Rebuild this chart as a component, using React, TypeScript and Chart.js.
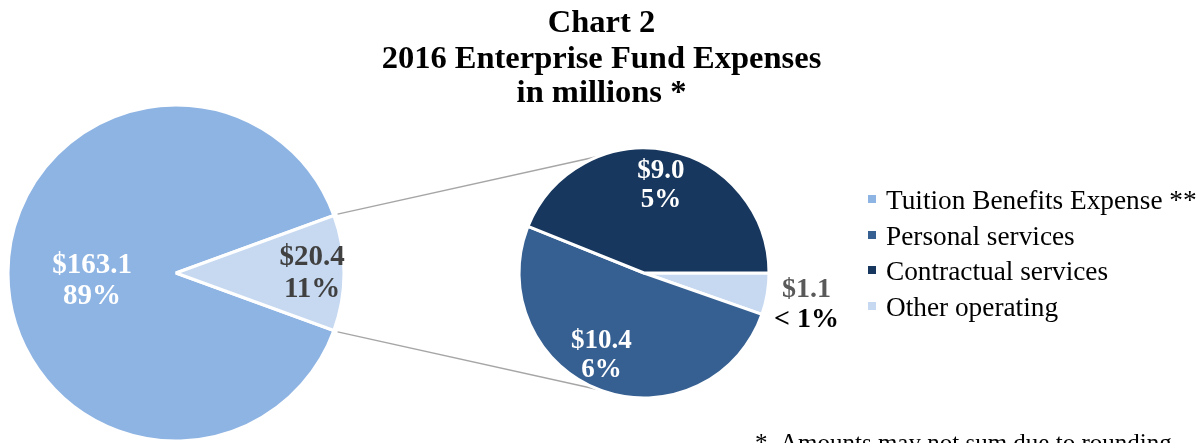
import React, { useEffect, useRef } from "react";
import { Chart, registerables } from "chart.js";

Chart.register(...registerables);

const W = 1203;
const H = 443;
const FONT = '"Liberation Serif", "Times New Roman", serif';

// ---------- data ----------
const titleLines = ["Chart 2", "2016 Enterprise Fund Expenses", "in millions *"];

const mainCategories = ["Tuition Benefits Expense **", "Other operating"];
const mainValues = [163.1, 20.4];
const mainValueLabels = ["$163.1", "$20.4"];
const mainPercentLabels = ["89%", "11%"];

const detailCategories = ["Other operating", "Personal services", "Contractual services"];
const detailValues = [1.1, 10.4, 9.0];
const detailValueLabels = ["$1.1", "$10.4", "$9.0"];
const detailPercentLabels = ["< 1%", "6%", "5%"];

const legendLabels = [
  "Tuition Benefits Expense **",
  "Personal services",
  "Contractual services",
  "Other operating",
];
const footnoteMark = "*";
const footnoteText = "Amounts may not sum due to rounding";

// ---------- styles ----------
const COLORS: Record<string, string> = {
  "Tuition Benefits Expense **": "#8EB4E3",
  "Personal services": "#376092",
  "Contractual services": "#17375E",
  "Other operating": "#C6D9F1",
};

type Place = { r: number; dx: number; dy: number; size: number; gap: number; c1: string; c2: string };

const mainPlace: Place[] = [
  { r: 0.5, dx: 0, dy: 8, size: 29, gap: 31, c1: "#FFFFFF", c2: "#FFFFFF" },
  { r: 0.81, dx: 0, dy: 1, size: 29, gap: 32, c1: "#404040", c2: "#404040" },
];
const detailPlace: Place[] = [
  { r: 1.31, dx: 1, dy: 4, size: 28, gap: 30, c1: "#595959", c2: "#000000" },
  { r: 0.74, dx: -10, dy: -4, size: 27, gap: 29, c1: "#FFFFFF", c2: "#FFFFFF" },
  { r: 0.71, dx: 0, dy: 0, size: 27, gap: 29, c1: "#FFFFFF", c2: "#FFFFFF" },
];

function makeLabelPlugin(id: string, valueLabels: string[], pctLabels: string[], place: Place[]) {
  return {
    id,
    afterDatasetsDraw(chart: any) {
      const meta = chart.getDatasetMeta(0);
      const ctx = chart.ctx;
      meta.data.forEach((arc: any, i: number) => {
        const { x, y, startAngle, endAngle, outerRadius } = arc.getProps(
          ["x", "y", "startAngle", "endAngle", "outerRadius"],
          true
        );
        const mid = (startAngle + endAngle) / 2;
        const p = place[i];
        const cx = x + Math.cos(mid) * outerRadius * p.r + p.dx;
        const cy = y + Math.sin(mid) * outerRadius * p.r + p.dy;
        ctx.save();
        ctx.font = `bold ${p.size}px ${FONT}`;
        ctx.textAlign = "center";
        ctx.textBaseline = "middle";
        ctx.fillStyle = p.c1;
        ctx.fillText(valueLabels[i], cx, cy - p.gap / 2);
        ctx.fillStyle = p.c2;
        ctx.fillText(pctLabels[i], cx, cy + p.gap / 2);
        ctx.restore();
      });
    },
  };
}

export default function App() {
  const mainRef = useRef<HTMLCanvasElement>(null);
  const detailRef = useRef<HTMLCanvasElement>(null);

  useEffect(() => {
    document.body.style.margin = "0";
    const mainSum = mainValues.reduce((a, b) => a + b, 0);
    const otherIdx = mainCategories.indexOf("Other operating");
    const halfOther = (mainValues[otherIdx] / mainSum) * 180;

    const mainChart = new Chart(mainRef.current!, {
      type: "pie",
      data: {
        labels: mainCategories,
        datasets: [
          {
            data: mainValues,
            backgroundColor: mainCategories.map((c) => COLORS[c]),
            borderColor: "#FFFFFF",
            borderWidth: 3,
          },
        ],
      },
      options: {
        responsive: false,
        animation: false,
        events: [],
        rotation: 90 + halfOther,
        radius: 168,
        layout: { padding: { left: 0, right: W - 352, top: 103, bottom: 0 } },
        plugins: { legend: { display: false }, tooltip: { enabled: false }, title: { display: false } },
      } as any,
      plugins: [makeLabelPlugin("mainLabels", mainValueLabels, mainPercentLabels, mainPlace)],
    });

    const connectorPlugin = {
      id: "connectors",
      beforeDatasetsDraw(chart: any) {
        const bigArc: any = mainChart.getDatasetMeta(0).data[otherIdx];
        if (!bigArc) return;
        const b = bigArc.getProps(["x", "y", "startAngle", "endAngle", "outerRadius"], true);
        const s = chart.getDatasetMeta(0).data[0].getProps(["x", "y", "outerRadius"], true);
        const ctx = chart.ctx;
        const endAngles = [(-110.6 * Math.PI) / 180, (110.6 * Math.PI) / 180];
        const startAngles = [b.startAngle, b.endAngle];
        ctx.save();
        ctx.strokeStyle = "#A6A6A6";
        ctx.lineWidth = 1.5;
        for (let k = 0; k < 2; k++) {
          const r0 = b.outerRadius + 4;
          const x0 = b.x + Math.cos(startAngles[k]) * r0;
          const y0 = b.y + Math.sin(startAngles[k]) * r0;
          const x1 = s.x + Math.cos(endAngles[k]) * s.outerRadius;
          const y1 = s.y + Math.sin(endAngles[k]) * s.outerRadius;
          ctx.beginPath();
          ctx.moveTo(x0, y0);
          ctx.lineTo(x1, y1);
          ctx.stroke();
        }
        ctx.restore();
      },
    };

    const detailChart = new Chart(detailRef.current!, {
      type: "pie",
      data: {
        labels: detailCategories,
        datasets: [
          {
            data: detailValues,
            backgroundColor: detailCategories.map((c) => COLORS[c]),
            borderColor: "#FFFFFF",
            borderWidth: 3,
          },
        ],
      },
      options: {
        responsive: false,
        animation: false,
        events: [],
        rotation: 90,
        radius: 125,
        layout: { padding: { left: 514, right: W - 774, top: 143, bottom: H - 403 } },
        plugins: { legend: { display: false }, tooltip: { enabled: false }, title: { display: false } },
      } as any,
      plugins: [
        connectorPlugin,
        makeLabelPlugin("detailLabels", detailValueLabels, detailPercentLabels, detailPlace),
      ],
    });

    return () => {
      detailChart.destroy();
      mainChart.destroy();
    };
  }, []);

  const titleSize = 32.5;
  const titleBaselines = [32, 68, 102];
  const legendSize = 27.3;
  const legendBaselines = [210, 245.5, 281, 316.5];
  const footSize = 25;
  const footTop = 434 - 0.175 * footSize;

  return (
    <div
      style={{
        position: "fixed",
        left: 0,
        top: 0,
        width: W,
        height: H,
        overflow: "hidden",
        background: "#FFFFFF",
        fontFamily: FONT,
      }}
    >
      <canvas ref={mainRef} width={W} height={H} style={{ position: "absolute", left: 0, top: 0 }} />
      <canvas ref={detailRef} width={W} height={H} style={{ position: "absolute", left: 0, top: 0 }} />
      {titleLines.map((t, i) => (
        <div
          key={t}
          style={{
            position: "absolute",
            left: 0,
            width: W,
            textAlign: "center",
            top: titleBaselines[i] - 0.8375 * titleSize,
            fontSize: titleSize,
            lineHeight: `${titleSize}px`,
            fontWeight: "bold",
            color: "#000000",
            whiteSpace: "nowrap",
          }}
        >
          {t}
        </div>
      ))}
      {legendLabels.map((t, i) => (
        <React.Fragment key={t}>
          <div
            style={{
              position: "absolute",
              left: 868,
              top: legendBaselines[i] - 15,
              width: 8,
              height: 8,
              background: COLORS[t],
            }}
          />
          <div
            style={{
              position: "absolute",
              left: 886,
              top: legendBaselines[i] - 0.8375 * legendSize,
              fontSize: legendSize,
              lineHeight: `${legendSize}px`,
              color: "#000000",
              whiteSpace: "nowrap",
            }}
          >
            {t}
          </div>
        </React.Fragment>
      ))}
      <div
        style={{
          position: "absolute",
          left: 755,
          top: footTop,
          fontSize: footSize,
          lineHeight: `${footSize}px`,
          color: "#000000",
          whiteSpace: "nowrap",
        }}
      >
        {footnoteMark}
      </div>
      <div
        style={{
          position: "absolute",
          left: 780,
          top: footTop,
          fontSize: footSize,
          lineHeight: `${footSize}px`,
          color: "#000000",
          whiteSpace: "nowrap",
        }}
      >
        {footnoteText}
      </div>
    </div>
  );
}
